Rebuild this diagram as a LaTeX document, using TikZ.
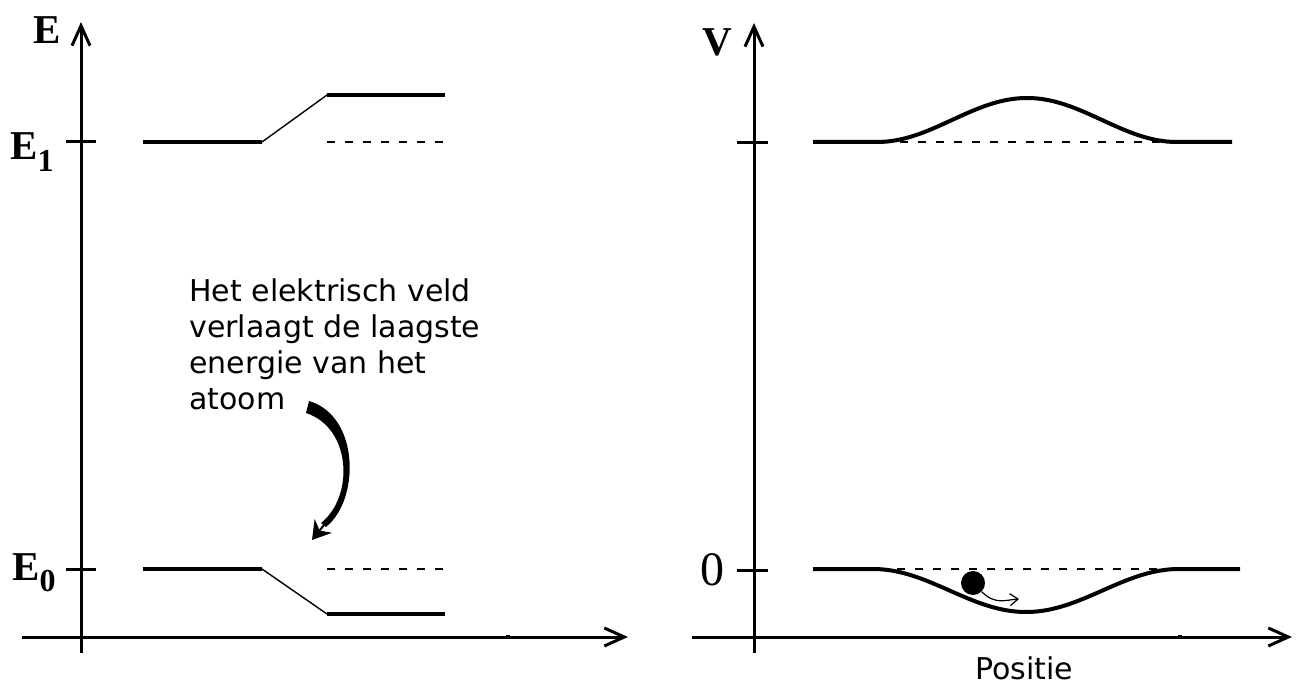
\documentclass[tikz,border=0pt]{standalone}
\usepackage{fontspec}
\newfontfamily\labelfont{Liberation Serif}
\newfontfamily\notefont{DejaVu Sans}
\usetikzlibrary{arrows.meta}

\begin{document}
\begin{tikzpicture}[x=0.5pt,y=-0.5pt,>={Straight Barb[length=10pt,width=9pt]},line join=round,
  axis/.style={line width=1.5pt},
  tick/.style={line width=1.5pt},
  level/.style={line width=2pt},
  shiftline/.style={line width=0.7pt},
  refline/.style={line width=1pt,dash pattern=on 4pt off 5pt},
  lbl/.style={font=\labelfont\bfseries\fontsize{20.5}{20.5}\selectfont,inner sep=0pt}]
  \useasboundingbox (0,0) rectangle (1306,684);
  % left panel
  \coordinate (LB) at (81,653);
  \coordinate (LT) at (81,22);
  \coordinate (LL) at (22,637);
  \coordinate (LR) at (628,637);
  \coordinate (LE1a) at (66,142);
  \coordinate (LE1b) at (96,142);
  \coordinate (LE0a) at (66,569);
  \coordinate (LE0b) at (96,569);
  \coordinate (A1) at (143,142);
  \coordinate (A2) at (262,142);
  \coordinate (A3) at (327,95);
  \coordinate (A4) at (445,95);
  \coordinate (A5) at (327,142);
  \coordinate (A6) at (445,142);
  \coordinate (B1) at (143,569);
  \coordinate (B2) at (262,569);
  \coordinate (B3) at (327,614);
  \coordinate (B4) at (445,614);
  \coordinate (B5) at (327,569);
  \coordinate (B6) at (445,569);
  \draw[axis,->] (LB) -- (LT);
  \draw[axis,->] (LL) -- (LR);
  \draw[tick] (LE1a) -- (LE1b);
  \draw[tick] (LE0a) -- (LE0b);
  \fill (506,635) rectangle (510,639);
  \draw[level] (A1) -- (A2);
  \draw[shiftline] (A2) -- (A3);
  \draw[level] (A3) -- (A4);
  \draw[refline] (A5) -- (A6);
  \draw[level] (B1) -- (B2);
  \draw[shiftline] (B2) -- (B3);
  \draw[level] (B3) -- (B4);
  \draw[refline] (B5) -- (B6);
  \node[lbl] (LAE) at (47,30) {E};
  \node[lbl,anchor=base west] (LAE1) at (10,160) {E\raisebox{-0.28em}{\fontsize{16}{16}\selectfont 1}};
  \node[lbl,anchor=base west] (LAE0) at (12,580) {E\raisebox{-0.28em}{\fontsize{16}{16}\selectfont 0}};
  \node[anchor=north west,align=left,inner sep=0pt,font=\notefont\fontsize{15}{18}\selectfont] (NOTE) at (189,278)
    {Het elektrisch veld\\verlaagt de laagste\\energie van het\\atoom};
  % tapered bend arrow
  \coordinate (CA) at (309,401);
  \coordinate (CB) at (312,540);
  \fill (CA) .. controls (360,416) and (360,500) .. (326,527)
    -- (321,523) .. controls (354,497) and (352,428) .. (306,413) -- cycle;
  \draw[line width=1pt,-{Stealth[length=9pt,width=11pt]}] (324,525) -- (CB);
  % right panel
  \coordinate (RB) at (754,653);
  \coordinate (RT) at (754,23);
  \coordinate (RL) at (692,637);
  \coordinate (RR) at (1292,637);
  \coordinate (RV1a) at (737,143);
  \coordinate (RV1b) at (768,143);
  \coordinate (RV0a) at (737,570);
  \coordinate (RV0b) at (768,570);
  \coordinate (U1) at (813,142);
  \coordinate (U2) at (877,142);
  \coordinate (U4) at (1232,142);
  \coordinate (D1) at (813,569);
  \coordinate (D2) at (873,569);
  \coordinate (D4) at (1240,569);
  \draw[axis,->] (RB) -- (RT);
  \draw[axis,->] (RL) -- (RR);
  \draw[tick] (RV1a) -- (RV1b);
  \draw[tick] (RV0a) -- (RV0b);
  \fill (1178,635) rectangle (1182,639);
  \draw[level] (U1) -- (U2) -- plot[domain=-150:150,samples=60,smooth] ({1027+\x},{142-22*(1+cos(\x*1.2))}) -- (U4);
  \draw[refline] (900,142) -- (1172,142);
  \draw[level] (D1) -- (D2) -- plot[domain=-153:153,samples=60,smooth] ({1026+\x},{569+21.5*(1+cos(\x/153*180))}) -- (D4);
  \draw[refline] (897,569) -- (1186,569);
  \node[circle,fill=black,inner sep=0pt,minimum size=12pt] (BALL) at (973,583) {};
  \coordinate (BT) at (1019,599);
  \draw[line width=0.6pt,-{Straight Barb[length=4pt,width=6pt]}] (BALL.south east) .. controls (995,605) and (1005,600) .. (BT);
  \node[lbl] (RAV) at (717,42) {V};
  \node[font=\labelfont\fontsize{24}{24}\selectfont,inner sep=0pt] (RA0) at (712,570) {0};
  \node[font=\notefont\fontsize{15}{16}\selectfont,inner sep=0pt] (POS) at (1024,668) {Positie};
\end{tikzpicture}
\end{document}
